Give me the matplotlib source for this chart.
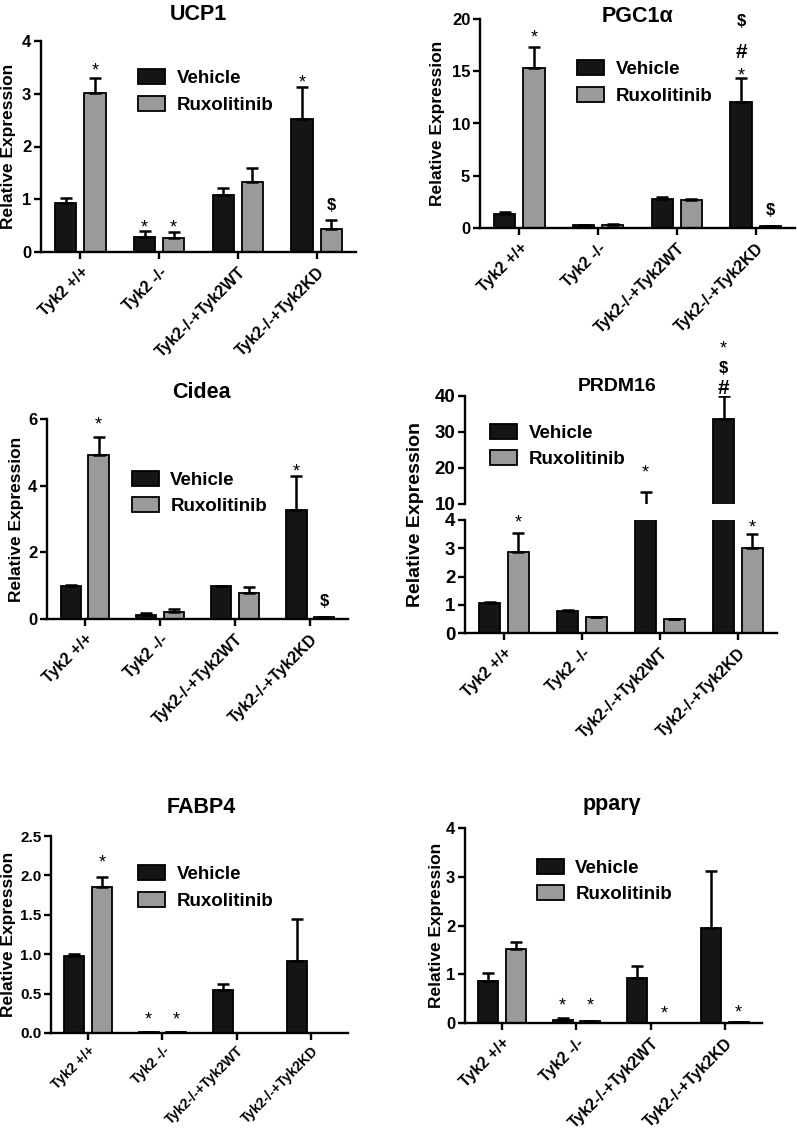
import numpy as np
import matplotlib
matplotlib.use("Agg")
import matplotlib.pyplot as plt
from matplotlib.patches import Patch

plt.rcParams['font.family'] = ['Liberation Sans', 'DejaVu Sans']
plt.rcParams['font.weight'] = 'bold'
plt.rcParams['axes.labelweight'] = 'bold'

# ---------------- data ----------------
groups = ['Tyk2 +/+', 'Tyk2 -/-', 'Tyk2-/-+Tyk2WT', 'Tyk2-/-+Tyk2KD']
series_names = ['Vehicle', 'Ruxolitinib']

ucp1_veh = [0.93, 0.28, 1.09, 2.53]
ucp1_veh_err = [0.09, 0.12, 0.12, 0.60]
ucp1_rux = [3.02, 0.27, 1.33, 0.43]
ucp1_rux_err = [0.28, 0.11, 0.26, 0.17]

pgc_veh = [1.35, 0.25, 2.75, 12.05]
pgc_veh_err = [0.20, 0.05, 0.20, 2.35]
pgc_rux = [15.35, 0.30, 2.65, 0.15]
pgc_rux_err = [1.95, 0.10, 0.10, 0.05]

cidea_veh = [1.00, 0.12, 0.98, 3.27]
cidea_veh_err = [0.01, 0.06, 0.02, 1.01]
cidea_rux = [4.92, 0.22, 0.78, 0.05]
cidea_rux_err = [0.55, 0.08, 0.17, 0.02]

prdm_veh = [1.05, 0.78, 8.0, 33.6]
prdm_veh_err = [0.05, 0.02, 5.3, 6.4]
prdm_rux = [2.88, 0.58, 0.50, 3.02]
prdm_rux_err = [0.67, 0.0, 0.0, 0.50]

fabp_veh = [0.98, 0.01, 0.55, 0.92]
fabp_veh_err = [0.02, 0.0, 0.07, 0.53]
fabp_rux = [1.85, 0.01, 0.0, 0.0]
fabp_rux_err = [0.13, 0.0, 0.0, 0.0]

ppar_veh = [0.87, 0.07, 0.92, 1.95]
ppar_veh_err = [0.16, 0.03, 0.25, 1.17]
ppar_rux = [1.52, 0.04, 0.0, 0.02]
ppar_rux_err = [0.15, 0.0, 0.0, 0.0]

# significance marks: (series, group, text, offset above error top in px)
ucp1_marks = [(1, 0, '*', 13), (0, 1, '*', 9), (1, 1, '*', 10), (0, 3, '*', 10), (1, 3, '$', 16)]
pgc_marks = [(1, 0, '*', 15), (0, 3, '*', 7), (0, 3, '#', 27), (0, 3, '$', 58), (1, 3, '$', 17)]
cidea_marks = [(1, 0, '*', 17), (0, 3, '*', 10), (1, 3, '$', 17)]
prdm_marks = [(1, 0, '*', 16), (0, 2, '*', 25), (0, 3, '#', 10), (0, 3, '$', 29), (0, 3, '*', 53), (1, 3, '*', 11)]
fabp_marks = [(1, 0, '*', 20), (0, 1, '*', 18), (1, 1, '*', 18)]
ppar_marks = [(0, 1, '*', 18), (1, 1, '*', 21), (1, 2, '*', 15), (1, 3, '*', 15)]

# ---------------- style ----------------
BLACK = '#151515'
GRAY = '#9a9a9a'
COLORS = [BLACK, GRAY]
W, H = 797, 1130
OFF = 0.185
BW = 0.27
GLYPH_CENTER = {'*': 0.57, '$': 0.36, '#': 0.36}
MARK_SIZE = {'*': 13, '$': 12, '#': 15}

fig = plt.figure(figsize=(W / 100, H / 100), dpi=100)


def add_axes_px(l, t, r, b):
    return fig.add_axes([l / W, 1 - b / H, (r - l) / W, (b - t) / H])


def draw_bars(ax, data):
    x = np.arange(len(groups))
    for i, (vals, errs) in enumerate(data):
        xs = x + (2 * i - 1) * OFF
        ax.bar(xs, vals, BW, color=COLORS[i], edgecolor='black', linewidth=1.3, zorder=2)
        ax.errorbar(xs, vals, yerr=[np.zeros(len(vals)), errs], fmt='none', ecolor='black',
                    elinewidth=1.8, capsize=4, capthick=1.8, zorder=3)


def style(ax, ylim, yticks, yticklabels, ysize=12, show_x=True, xsize=11.5, xpad=4):
    ax.set_xlim(-0.5, 3.5)
    ax.set_ylim(*ylim)
    ax.set_yticks(yticks)
    ax.set_yticklabels(yticklabels, fontsize=ysize, fontweight='bold')
    for s in ['top', 'right']:
        ax.spines[s].set_visible(False)
    for s in ['left', 'bottom']:
        ax.spines[s].set_linewidth(1.7)
    ax.tick_params(axis='y', width=1.7, length=5, pad=2)
    if show_x:
        ax.set_xticks(np.arange(len(groups)))
        ax.set_xticklabels(groups, rotation=45, ha='right', va='top', rotation_mode='anchor',
                           fontsize=xsize, fontweight='bold')
        ax.tick_params(axis='x', width=1.7, length=5, pad=xpad)
    else:
        ax.spines['bottom'].set_visible(False)
        ax.set_xticks([])


def marks(ax, data, mk, lo=None, hi=None):
    for s, g, txt, off_px in mk:
        vals, errs = data[s]
        top = vals[g] + errs[g]
        if lo is not None and not (lo <= top <= hi):
            continue
        fs = MARK_SIZE[txt]
        off = off_px * 0.72 - GLYPH_CENTER[txt] * fs
        ax.annotate(txt, xy=(g + (2 * s - 1) * OFF, top), xytext=(0, off),
                    textcoords='offset points', ha='center', va='baseline',
                    fontsize=fs, fontweight='normal' if txt == '*' else 'bold',
                    annotation_clip=False)


def legend(ax, x, y):
    handles = [Patch(facecolor=COLORS[i], edgecolor='black', linewidth=1.3) for i in range(2)]
    ax.legend(handles, series_names, loc='center left', bbox_to_anchor=(x, y), frameon=False,
              borderpad=0, borderaxespad=0, handlelength=1.45, handleheight=0.85,
              handletextpad=0.6, labelspacing=0.45, prop={'size': 13.5, 'weight': 'bold'})


def ylabel(ax, dx_px, size=12.5):
    bb = ax.get_position()
    ax.text(-dx_px / (bb.width * W), 0.5, 'Relative Expression', transform=ax.transAxes,
            rotation=90, ha='center', va='center', fontsize=size, fontweight='bold')


def title(ax, text, cy_px, size=15.5, dx_px=0):
    bb = ax.get_position()
    cx = bb.x0 + bb.width / 2 + dx_px / W
    base_px = cy_px + 0.36 * size * 100 / 72
    fig.text(cx, 1 - base_px / H, text, ha='center', va='baseline', fontsize=size,
             fontweight='bold')


# ---- UCP1 ----
ax = add_axes_px(41, 41, 356, 252)
d = [(ucp1_veh, ucp1_veh_err), (ucp1_rux, ucp1_rux_err)]
draw_bars(ax, d)
style(ax, (0, 4), [0, 1, 2, 3, 4], ['0', '1', '2', '3', '4'])
marks(ax, d, ucp1_marks)
legend(ax, 0.308, 0.761)
ylabel(ax, 32)
title(ax, 'UCP1', 12)

# ---- PGC1a ----
ax = add_axes_px(480, 19, 795, 228)
d = [(pgc_veh, pgc_veh_err), (pgc_rux, pgc_rux_err)]
draw_bars(ax, d)
style(ax, (0, 20), [0, 5, 10, 15, 20], ['0', '5', '10', '15', '20'])
marks(ax, d, pgc_marks)
legend(ax, 0.308, 0.696)
ylabel(ax, 42)
title(ax, 'PGC1α', 14)

# ---- Cidea ----
ax = add_axes_px(47, 419, 348, 619)
d = [(cidea_veh, cidea_veh_err), (cidea_rux, cidea_rux_err)]
draw_bars(ax, d)
style(ax, (0, 6), [0, 2, 4, 6], ['0', '2', '4', '6'])
marks(ax, d, cidea_marks)
legend(ax, 0.282, 0.63)
ylabel(ax, 30)
title(ax, 'Cidea', 390, dx_px=4)

# ---- PRDM16 (broken axis) ----
d = [(prdm_veh, prdm_veh_err), (prdm_rux, prdm_rux_err)]
axu = add_axes_px(465, 396, 777, 504)
axl = add_axes_px(465, 520, 777, 633)
draw_bars(axu, d)
draw_bars(axl, d)
style(axu, (10, 40), [10, 20, 30, 40], ['10', '20', '30', '40'], ysize=13.5, show_x=False)
style(axl, (0, 4), [0, 1, 2, 3, 4], ['0', '1', '2', '3', '4'], ysize=13.5)
marks(axu, d, prdm_marks, 10, 1e9)
marks(axl, d, prdm_marks, 0, 4)
legend(axu, 0.08, 0.537)
title(axu, 'PRDM16', 384, size=14, dx_px=-4)
bl = axl.get_position()
bu = axu.get_position()
fig.text(416 / W, (bl.y0 + bu.y1) / 2, 'Relative Expression', rotation=90, ha='center',
         va='center', fontsize=14, fontweight='bold')

# ---- FABP4 ----
ax = add_axes_px(51, 836, 348, 1033)
d = [(fabp_veh, fabp_veh_err), (fabp_rux, fabp_rux_err)]
draw_bars(ax, d)
style(ax, (0, 2.5), [0, 0.5, 1.0, 1.5, 2.0, 2.5], ['0.0', '0.5', '1.0', '1.5', '2.0', '2.5'],
      ysize=11, xsize=10, xpad=2.5)
marks(ax, d, fabp_marks)
legend(ax, 0.293, 0.739)
ylabel(ax, 42)
title(ax, 'FABP4', 805, dx_px=2)

# ---- ppar-gamma ----
ax = add_axes_px(465, 828, 762, 1023)
d = [(ppar_veh, ppar_veh_err), (ppar_rux, ppar_rux_err)]
draw_bars(ax, d)
style(ax, (0, 4), [0, 1, 2, 3, 4], ['0', '1', '2', '3', '4'])
marks(ax, d, ppar_marks)
legend(ax, 0.242, 0.728)
ylabel(ax, 29)
title(ax, 'pparγ', 802, dx_px=-2)

fig.savefig('out.png', dpi=100)
